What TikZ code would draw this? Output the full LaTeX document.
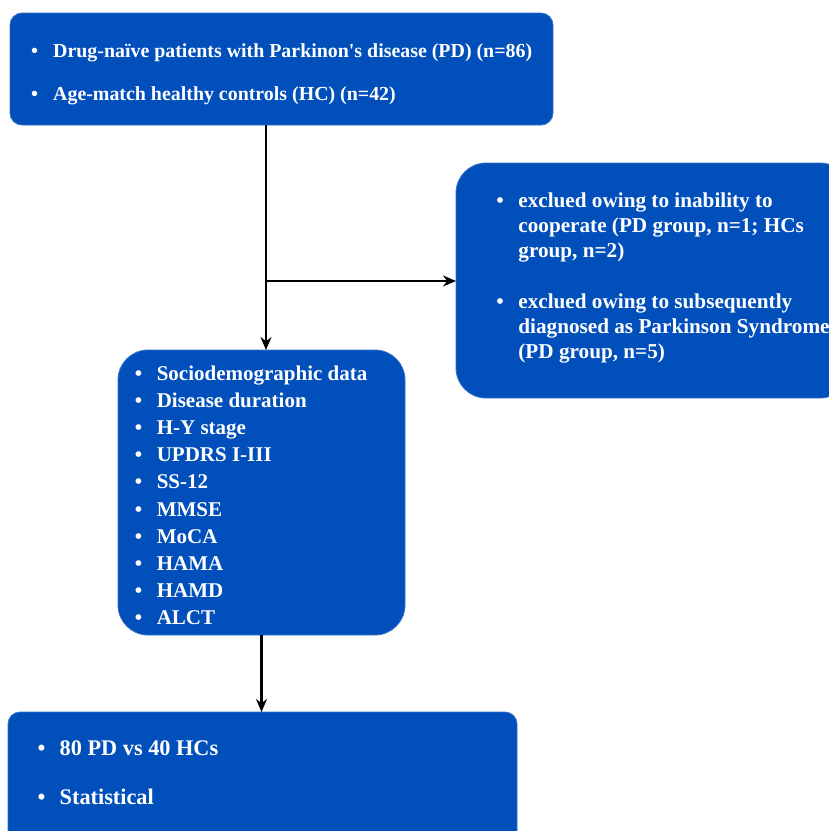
\documentclass[tikz,border=0pt]{standalone}
\usepackage{fontspec}
\setmainfont{Liberation Serif}
\usepackage{tikz}
\usepackage{xcolor}
\usetikzlibrary{arrows.meta}
\definecolor{kasten}{RGB}{0,79,187}
\tikzstyle{box} = [rectangle, draw=kasten!80!white, fill=kasten, line width=0.8pt, inner sep=0pt, outer sep=0pt]
\tikzstyle{txt} = [anchor=base west, inner sep=0pt, align=left, text=white]
\newcommand{\bul}{\makebox[22pt][l]{\textbullet}}
\newcommand{\weiter}{\hspace*{22pt}}

\begin{document}
\begin{tikzpicture}[x=1pt,y=-1pt,>={Stealth[length=13pt,width=11pt]},line width=2.2pt]
  \useasboundingbox (0,0) rectangle (829,831);
  % Kaesten
  \node[box, rounded corners=12pt, minimum width=543pt, minimum height=112pt] (Teilnehmer) at (281.5,69) {};
  \node[box, rounded corners=30pt, minimum width=394pt, minimum height=235pt] (Ausschluss) at (653,280.5) {};
  \node[box, rounded corners=30pt, minimum width=287pt, minimum height=285pt] (Messung) at (261.5,492.5) {};
  \node[box, rounded corners=12pt, minimum width=509pt, minimum height=138pt] (Analyse) at (262.5,781) {};

  % Texte (Anker = Grundlinie der letzten Zeile)
  \node[txt, font=\fontsize{19.9}{25}\selectfont\bfseries] (Teilnehmer_Text) at (30.1,100.7) {\bul Drug-naïve patients with Parkinon\textquotesingle s disease (PD) (n=86)\\[18.4pt]
    \bul Age-match healthy controls (HC) (n=42)};
  \node[txt, font=\fontsize{21.2}{25}\selectfont\bfseries] (Ausschluss_Text) at (495.3,358) {\bul exclued owing to inability to\\
    \weiter cooperate (PD group, n=1; HCs\\
    \weiter group, n=2)\\[26pt]
    \bul exclued owing to subsequently\\
    \weiter diagnosed as Parkinson Syndrome\\
    \weiter (PD group, n=5)};
  \node[txt, font=\fontsize{21}{27.2}\selectfont\bfseries] (Messung_Text) at (133.7,624.8) {\bul Sociodemographic data\\
    \bul Disease duration\\
    \bul H-Y stage\\
    \bul UPDRS I-III\\
    \bul SS-12\\
    \bul MMSE\\
    \bul MoCA\\
    \bul HAMA\\
    \bul HAMD\\
    \bul ALCT};
  \node[txt, font=\fontsize{22.3}{25}\selectfont\bfseries] (Analyse_Text) at (36.6,804) {\bul 80 PD vs 40 HCs\\[24pt]
    \bul Statistical};

  % Pfeile
  \coordinate (Abzweig) at (266,281);
  \draw[->] (Teilnehmer.south -| Abzweig) -- (Messung.north -| Abzweig);
  \draw[->] (Abzweig) -- (Ausschluss.west |- Abzweig);
  \draw[->] (Messung.south) -- (Analyse.north -| Messung.south);
\end{tikzpicture}
\end{document}
